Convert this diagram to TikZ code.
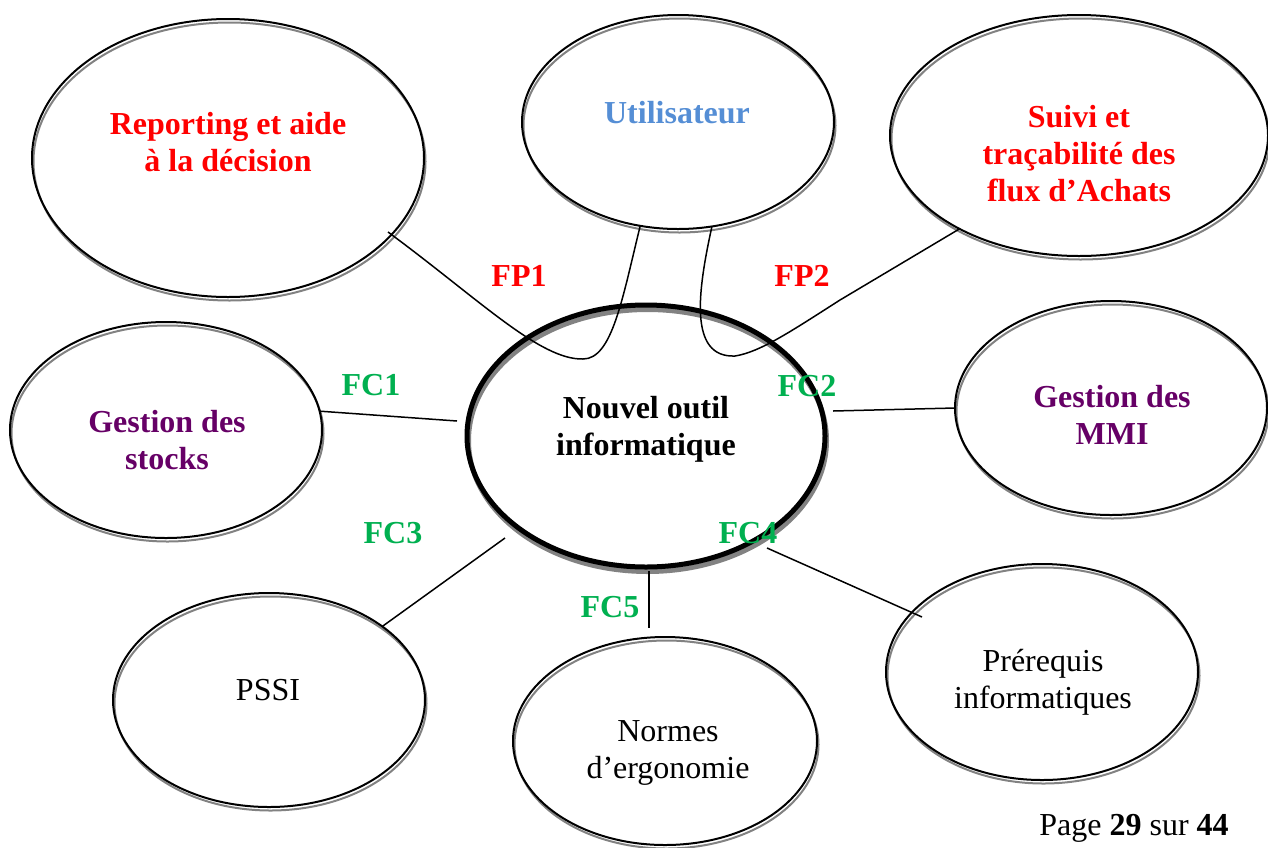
\documentclass[tikz,border=0pt]{standalone}
\usepackage{fontspec}
\setmainfont{Liberation Serif}
\usetikzlibrary{shapes.geometric}
\definecolor{fpred}{RGB}{255,0,0}
\definecolor{fcgreen}{RGB}{0,176,80}
\definecolor{mauve}{RGB}{102,0,102}
\definecolor{ublue}{RGB}{85,142,213}
\definecolor{shadowgray}{RGB}{130,130,130}
\newcommand{\bub}[7][1pt]{%
  \draw[draw=shadowgray, line width=#1] (#3+1.5,#4+#7) ellipse [x radius=#5, y radius=#6];
  \node[bubble, line width=#1, minimum width=#5 pt, minimum height=#6 pt] (#2) at (#3,#4) {};}
\begin{document}
\begin{tikzpicture}[x=0.5pt, y=-0.5pt,
  every node/.style={font=\fontsize{16}{18.5}\selectfont},
  bubble/.style={ellipse, draw=black, inner sep=0pt, outer sep=0pt},
  txt/.style={align=center, inner sep=0pt},
  btxt/.style={align=center, inner sep=0pt, font=\fontsize{16}{18.5}\selectfont\bfseries},
  flab/.style={inner sep=0pt, font=\fontsize{16}{18.5}\selectfont\bfseries},
  conn/.style={line width=0.75pt, draw=black}]
\useasboundingbox (0,0) rectangle (1268,847);

% ellipses
\bub{rep}{228}{158}{196}{139}{3.5}
\bub{util}{678}{122}{156}{107}{3.5}
\bub{suivi}{1079}{135.5}{189}{120.5}{3.5}
\bub{stock}{166}{430}{156}{108}{3.5}
\bub{mmi}{1111}{408}{156}{107}{3.5}
\bub{pssi}{269}{700}{156}{107}{3.5}
\bub{norm}{665}{741}{152}{104}{3.5}
\bub{pre}{1042}{672}{156}{108}{3.5}
\bub[2.5pt]{central}{646}{436}{179}{131}{4.5}

% texts
\node[btxt, text=fpred] (t-rep) at (228,142) {Reporting et aide\\à la décision};
\node[btxt, text=ublue] (t-util) at (677,113) {Utilisateur};
\node[btxt, text=fpred] (t-suivi) at (1079,154) {Suivi et\\traçabilité des\\flux d’Achats};
\node[btxt, text=mauve] (t-stock) at (167,440) {Gestion des\\stocks};
\node[btxt, text=mauve] (t-mmi) at (1112,415) {Gestion des\\MMI};
\node[btxt] (t-central) at (646,429) {Nouvel outil\\informatique};
\node[txt] (t-pssi) at (268,690) {PSSI};
\node[txt] (t-norm) at (668,753) {Normes\\d’ergonomie};
\node[txt] (t-pre) at (1043,682) {Prérequis\\informatiques};
\node[txt] (page) at (1134,828) {Page \textbf{29} sur \textbf{44}};

% free ends
\coordinate (fp1s) at (388,232);
\coordinate (fc1e) at (457,421);
\coordinate (fc2s) at (833,411);
\coordinate (fc3e) at (505,538);
\coordinate (fc4s) at (767,548);
\coordinate (fc4e) at (922,617);
\coordinate (fc5s) at (649,571);
\coordinate (fc5e) at (649,628);

% connectors
\draw[conn] (fp1s) .. controls (480,300) and (540,360) .. (583,359)
  .. controls (612,359) and (622,300) .. (util.-110);
\draw[conn] (util.-72) .. controls (698,290) and (688,358) .. (735,356)
  .. controls (760,352) and (790,332) .. (840,300) -- (suivi.-142);
\draw[conn] (stock.7) -- (fc1e);
\draw[conn] (fc2s) -- (mmi.west);
\draw[conn] (pssi.33) -- (fc3e);
\draw[conn] (fc4s) -- (fc4e);
\draw[conn] (fc5s) -- (fc5e);

% labels
\node[flab, text=fpred] (l-fp1) at (519,276) {FP1};
\node[flab, text=fpred] (l-fp2) at (802,276) {FP2};
\node[flab, text=fcgreen] (l-fc1) at (371,385) {FC1};
\node[flab, text=fcgreen] (l-fc2) at (807,386) {FC2};
\node[flab, text=fcgreen] (l-fc3) at (393,533) {FC3};
\node[flab, text=fcgreen] (l-fc4) at (748,533) {FC4};
\node[flab, text=fcgreen] (l-fc5) at (610,607) {FC5};
\end{tikzpicture}
\end{document}
